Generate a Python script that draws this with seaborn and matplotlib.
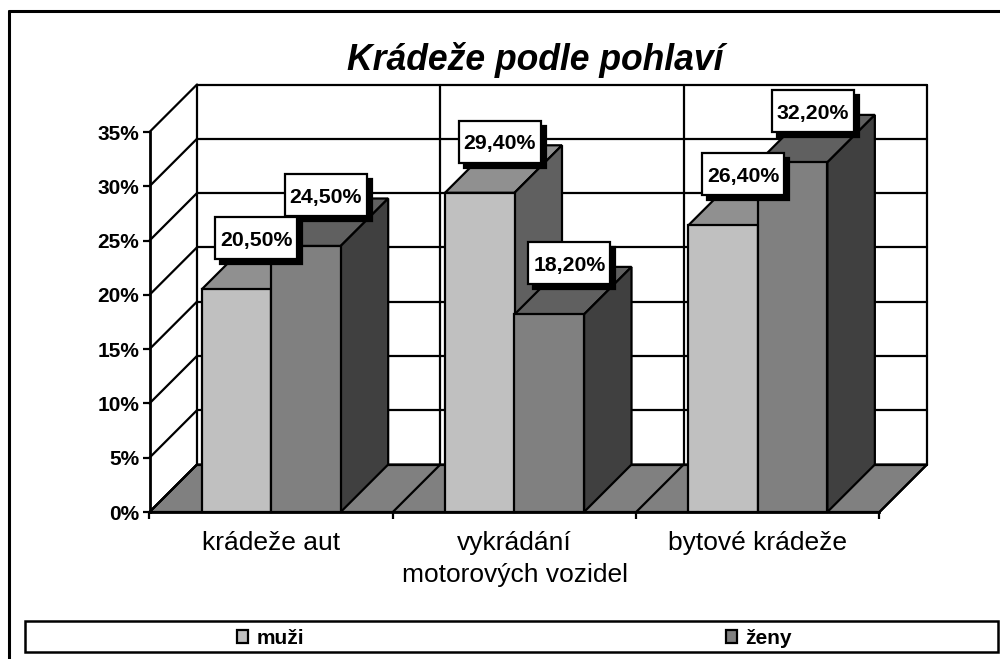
import matplotlib
matplotlib.use("Agg")
import matplotlib.pyplot as plt
from matplotlib.lines import Line2D
from matplotlib.patches import Polygon, Rectangle
import numpy as np
import pandas as pd
import seaborn as sns

categories = ["krádeže aut", "vykrádání\nmotorových vozidel", "bytové krádeže"]
series = ["muži", "ženy"]
muzi = [20.5, 29.4, 26.4]
zeny = [24.5, 18.2, 32.2]
yticks = [0, 5, 10, 15, 20, 25, 30, 35]

front_colors = ["#c0c0c0", "#808080"]
top_colors = ["#909090", "#606060"]
side_colors = ["#606060", "#404040"]

sns.set_style("white")
plt.rcParams["font.family"] = ["Liberation Sans", "DejaVu Sans"]
plt.rcParams["text.color"] = "black"

W, H = 1000, 659
fig = plt.figure(figsize=(W / 100, H / 100), dpi=100, facecolor="white")

# front plane of the fake 3D box, in pixels
left, right, y0, y35 = 149.5, 879.5, 512.0, 132.0
ax = fig.add_axes([left / W, 1 - y0 / H, (right - left) / W, (y0 - y35) / H])
ax.patch.set_alpha(0)

df = pd.DataFrame({
    "kategorie": categories * 2,
    "pohlavi": [series[0]] * 3 + [series[1]] * 3,
    "hodnota": muzi + zeny,
})
sns.barplot(data=df, x="kategorie", y="hodnota", hue="pohlavi", order=categories,
            hue_order=series, palette=front_colors, width=0.5714, gap=0,
            edgecolor="black", linewidth=1.6, ax=ax)
ax.set_xlim(-0.5, 2.5)
ax.set_ylim(0, 35)

# pixel sizes expressed in data units
px_x = 3 / (right - left)
px_y = 35 / (y0 - y35)
dx = 47.5 * px_x
dy = 47.5 * px_y
lw = 1.6

# floor
ax.add_patch(Polygon([(-0.5, 0), (2.5, 0), (2.5 + dx, dy), (-0.5 + dx, dy)],
                     closed=True, fc="#808080", ec="black", lw=lw,
                     zorder=0.2, clip_on=False))

# back wall and side wall lines
for t in yticks:
    ax.plot([-0.5, -0.5 + dx], [t, t + dy], color="black", lw=lw, zorder=0.3, clip_on=False)
    ax.plot([-0.5 + dx, 2.5 + dx], [t + dy, t + dy], color="black", lw=lw, zorder=0.3, clip_on=False)
for b in np.arange(-0.5, 3):
    ax.plot([b, b + dx], [0, dy], color="black", lw=lw, zorder=0.3, clip_on=False)
    ax.plot([b + dx, b + dx], [dy, 35 + dy], color="black", lw=lw, zorder=0.3, clip_on=False)

# top and side faces worked out from the bars seaborn drew
for i, cont in enumerate(ax.containers):
    base = 1 + 2 * i
    for bar in cont:
        x, w, v = bar.get_x(), bar.get_width(), bar.get_height()
        ax.add_patch(Polygon([(x, v), (x + w, v), (x + w + dx, v + dy), (x + dx, v + dy)],
                             closed=True, fc=top_colors[i], ec="black", lw=lw,
                             zorder=base, clip_on=False))
        ax.add_patch(Polygon([(x + w, 0), (x + w + dx, dy), (x + w + dx, v + dy), (x + w, v)],
                             closed=True, fc=side_colors[i], ec="black", lw=lw,
                             zorder=base, clip_on=False))
        bar.set_zorder(base + 1)
        bar.set_clip_on(False)

# value labels with drop shadow
box_w, box_h = 82 * px_x, 42 * px_y
for cont in ax.containers:
    for bar in cont:
        v = bar.get_height()
        cx = bar.get_x() + bar.get_width() / 2 + 20 * px_x
        cy = v + 51 * px_y
        ax.add_patch(Rectangle((cx - box_w / 2 + 5 * px_x, cy - box_h / 2 - 5 * px_y), box_w, box_h,
                               fc="black", ec="black", lw=lw, zorder=6, clip_on=False))
        ax.add_patch(Rectangle((cx - box_w / 2, cy - box_h / 2), box_w, box_h,
                               fc="white", ec="black", lw=lw, zorder=7, clip_on=False))
        ax.text(cx, cy, f"{v:.2f}".replace(".", ",") + "%", ha="center", va="center_baseline",
                fontsize=15.3, fontweight="bold", color="black", zorder=8)

# axes
sns.despine(ax=ax, top=True, right=True)
for s in ["left", "bottom"]:
    ax.spines[s].set_color("black")
    ax.spines[s].set_linewidth(2)
    ax.spines[s].set_zorder(10)
ax.set_xlabel("")
ax.set_ylabel("")
ax.set_yticks(yticks)
ax.set_yticklabels([f"{t}%" for t in yticks], fontsize=15, fontweight="bold",
                   color="black", va="center_baseline")
ax.set_xticks(range(3))
ax.set_xticklabels(categories, fontsize=19, linespacing=1.44, color="black")
ax.set_xticks(np.arange(-0.5, 3), minor=True)
ax.tick_params(axis="x", which="major", length=0, pad=13.5)
ax.tick_params(axis="x", which="minor", length=5, width=1.6, color="black", bottom=True)
ax.tick_params(axis="y", length=5, width=1.6, color="black", left=True, pad=2.5)

fig.text(535.5 / W, 1 - 60 / H, "Krádeže podle pohlaví", ha="center", va="center",
         fontsize=25.6, fontweight="bold", fontstyle="italic", color="black")

# legend with its strip
fig.add_artist(Rectangle((25 / W, 1 - 652 / H), 973 / W, 31 / H, transform=fig.transFigure,
                         fc="white", ec="black", lw=1.8, zorder=-1))
handles, labels = ax.get_legend_handles_labels()
ax.legend(handles, labels, ncol=2, mode="expand", loc="center",
          bbox_to_anchor=(237 / W, 1 - 654 / H, 555 / W, 31 / H), bbox_transform=fig.transFigure,
          frameon=False, prop={"size": 15, "weight": "bold"}, borderpad=0, borderaxespad=0,
          handlelength=0.55, handleheight=0.55, handletextpad=0.4)

# outer chart border, cut off by the image on the right and bottom
fig.add_artist(Line2D([9 / W, 9 / W], [0, 1 - 11 / H], color="black", lw=2.2))
fig.add_artist(Line2D([9 / W, 1], [1 - 11 / H, 1 - 11 / H], color="black", lw=2.2))

fig.savefig("out.png", dpi=100)
